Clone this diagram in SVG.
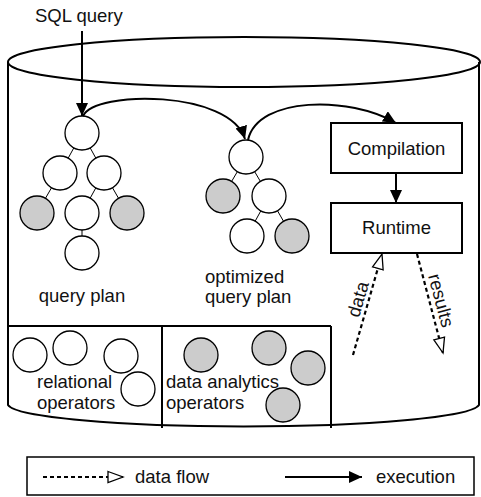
<svg xmlns="http://www.w3.org/2000/svg" width="481" height="497" viewBox="0 0 481 497">
<style>
text{font-family:"Liberation Sans",Arial,sans-serif;font-size:18.5px;fill:#111}
.c{fill:#fff;stroke:#000;stroke-width:1.3}
.g{fill:#ccc;stroke:#000;stroke-width:1.3}
.e{stroke:#000;stroke-width:1;fill:none}
.box{fill:#fff;stroke:#000;stroke-width:2}
.s{fill:none;stroke:#000;stroke-width:2}
.d{fill:none;stroke:#000;stroke-width:2.2;stroke-dasharray:4 3}
</style>
<defs>
<marker id="ah" markerUnits="userSpaceOnUse" markerWidth="14" markerHeight="12" refX="13" refY="6" orient="auto"><path d="M0,0 L13,6 L0,12 Z" fill="#000"/></marker>
<marker id="oh" markerUnits="userSpaceOnUse" markerWidth="18" markerHeight="14" refX="16" refY="7" orient="auto"><path d="M1,1.5 L16,7 L1,12.5 Z" fill="#fff" stroke="#000" stroke-width="1.3"/></marker>
</defs>
<g id="cylinder">
<path class="s" d="M8,62 L8,405 A236,23 0 0 0 479,405 L479,62"/>
<ellipse class="s" cx="244" cy="62" rx="236" ry="25"/>
<path class="s" d="M8,326 H331 M162,326 V428 M331,326 V428"/>
</g>
<g id="relational">
<circle class="c" cx="30" cy="355" r="17"/>
<circle class="c" cx="70" cy="348" r="17"/>
<circle class="c" cx="121" cy="356" r="17"/>
<circle class="c" cx="138" cy="389" r="17"/>
<text x="37" y="388">relational</text>
<text x="37" y="409">operators</text>
</g>
<g id="analytics">
<circle class="g" cx="201" cy="355" r="17"/>
<circle class="g" cx="269" cy="348" r="17"/>
<circle class="g" cx="308" cy="368" r="17"/>
<circle class="g" cx="283" cy="405" r="17"/>
<text x="166" y="388">data analytics</text>
<text x="166" y="409">operators</text>
</g>
<g id="sql"><text x="35" y="22">SQL query</text></g>
<g id="queryplan">
<path class="e" d="M82,133 L60,173 M82,133 L104,173 M60,173 L37,213 M104,173 L82,213 M104,173 L127,213 M82,213 L82,253"/>
<circle class="c" cx="82" cy="133" r="17"/>
<circle class="c" cx="60" cy="173" r="17"/>
<circle class="c" cx="104" cy="173" r="17"/>
<circle class="g" cx="37" cy="213" r="17"/>
<circle class="c" cx="82" cy="213" r="17"/>
<circle class="g" cx="127" cy="213" r="17"/>
<circle class="c" cx="82" cy="253" r="17"/>
<text x="82" y="302" text-anchor="middle">query plan</text>
</g>
<g id="optplan">
<path class="e" d="M246,157 L223,196 M246,157 L269,196 M269,196 L247,236 M269,196 L292,236"/>
<circle class="c" cx="246" cy="157" r="17"/>
<circle class="g" cx="223" cy="196" r="17"/>
<circle class="c" cx="269" cy="196" r="17"/>
<circle class="c" cx="247" cy="236" r="17"/>
<circle class="g" cx="292" cy="236" r="17"/>
<text x="205" y="283">optimized</text>
<text x="205" y="303">query plan</text>
</g>
<g id="compilation">
<rect class="box" x="331" y="123" width="131" height="50"/>
<text x="396.5" y="155" text-anchor="middle">Compilation</text>
</g>
<g id="runtime">
<rect class="box" x="331" y="203" width="131" height="50"/>
<text x="396.5" y="234" text-anchor="middle">Runtime</text>
</g>
<g id="connectors">
<path class="s" d="M82,31 V116" marker-end="url(#ah)"/>
<path class="s" d="M83,116 C95,90 230,90 245,139" marker-end="url(#ah)"/>
<path class="s" d="M248,140 C258,96 350,96 396,123" marker-end="url(#ah)"/>
<path class="s" d="M396,173 V203" marker-end="url(#ah)"/>
<path class="d" d="M353,355 L382,254" marker-end="url(#oh)"/>
<path class="d" d="M417,254 L443,353" marker-end="url(#oh)"/>
<text transform="translate(364,301) rotate(-74)" text-anchor="middle">data</text>
<text transform="translate(435,302) rotate(75)" text-anchor="middle">results</text>
</g>
<g id="legend">
<rect x="27" y="457" width="447" height="38" fill="#fff" stroke="#000" stroke-width="1.5"/>
<path class="d" d="M43,477 H123" stroke-width="1.5" marker-end="url(#oh)"/>
<text x="135" y="483">data flow</text>
<path class="s" d="M285,477 H362" marker-end="url(#ah)"/>
<text x="376" y="483">execution</text>
</g>
</svg>
